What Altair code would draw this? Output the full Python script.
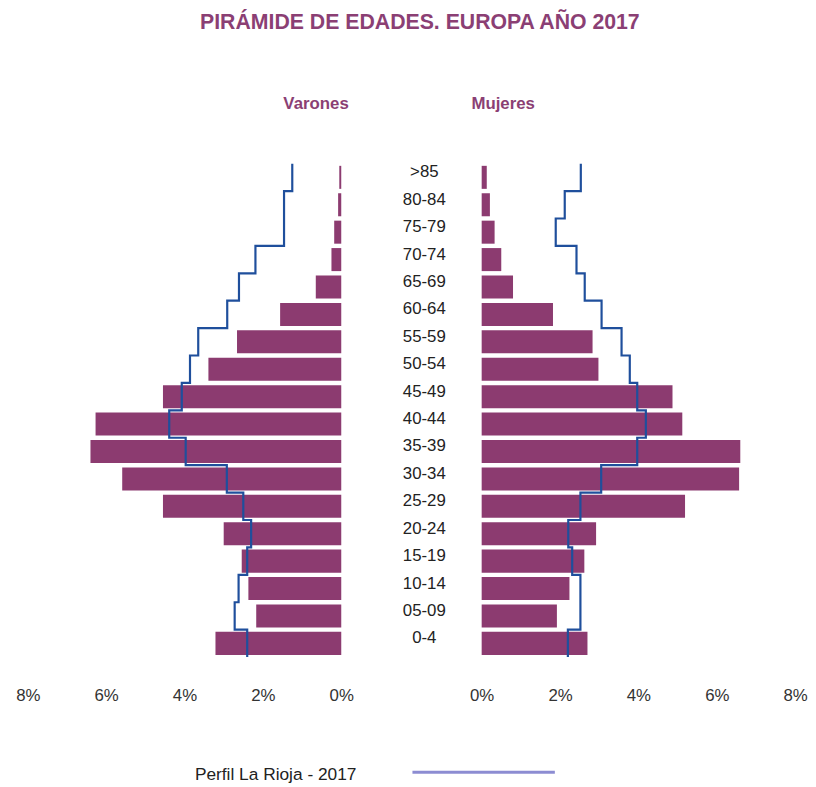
import altair as alt
import pandas as pd

ages = [">85", "80-84", "75-79", "70-74", "65-69", "60-64", "55-59", "50-54", "45-49",
        "40-44", "35-39", "30-34", "25-29", "20-24", "15-19", "10-14", "05-09", "0-4"]
men_europe = [0.05, 0.08, 0.18, 0.25, 0.65, 1.56, 2.66, 3.39, 4.55,
              6.27, 6.40, 5.59, 4.55, 3.00, 2.54, 2.37, 2.17, 3.21]
women_europe = [0.13, 0.21, 0.33, 0.50, 0.80, 1.82, 2.83, 2.98, 4.87,
                5.12, 6.60, 6.57, 5.19, 2.92, 2.62, 2.24, 1.92, 2.70]
men_rioja = [1.25, 1.46, 1.46, 2.19, 2.61, 2.91, 3.65, 3.86, 4.07,
             4.39, 3.97, 2.92, 2.50, 2.30, 2.40, 2.62, 2.72, 2.40]
women_rioja = [2.53, 2.12, 1.89, 2.42, 2.63, 3.06, 3.57, 3.78, 3.97,
               4.19, 3.97, 3.05, 2.52, 2.21, 2.31, 2.52, 2.52, 2.20]
tick_values = [0, 2, 4, 6, 8]

TITLE = "PIRÁMIDE DE EDADES. EUROPA AÑO 2017"
LEFT_LABEL = "Varones"
RIGHT_LABEL = "Mujeres"
LEGEND_LABEL = "Perfil La Rioja - 2017"

FONT = "Liberation Sans"
PURPLE = "#8C3B70"
TITLE_PURPLE = "#8B3F74"
BLUE = "#1F4F9C"
LEGEND_BLUE = "#8C8CD2"

W_SIDE = 317
W_MID = 142
H = 499

df = pd.DataFrame({
    "age": ages,
    "idx": list(range(len(ages))),
    "men": men_europe,
    "women": women_europe,
    "men_r": men_rioja,
    "women_r": women_rioja,
})

yscale = alt.Scale(domain=[0, len(ages)], reverse=True, nice=False, zero=False)


def side(value_field, line_field, reverse):
    xscale = alt.Scale(domain=[0, 8], reverse=reverse, nice=False)
    axis = alt.Axis(values=tick_values, labelExpr="datum.value + '%'", grid=False,
                    domain=False, ticks=False, tickSize=0, labelPadding=31,
                    labelFlush=False, labelOverlap=False, labelBound=False,
                    labelFontSize=17, labelColor="#333333", labelFont=FONT, title=None)
    base = alt.Chart(df)
    bars = base.transform_calculate(
        y0="datum.idx + 0.08", y1="datum.idx + 0.92"
    ).mark_rect(color=PURPLE).encode(
        x=alt.X(f"{value_field}:Q", scale=xscale, axis=axis),
        x2=alt.datum(0),
        y=alt.Y("y0:Q", scale=yscale, axis=None),
        y2="y1:Q",
    )
    line = base.transform_calculate(
        top="datum.idx", bot="datum.idx + 1"
    ).transform_fold(
        ["top", "bot"], as_=["edge", "ypos"]
    ).transform_calculate(
        ord="datum.idx * 2 + (datum.edge == 'bot' ? 1 : 0)"
    ).mark_line(color=BLUE, strokeWidth=2.2).encode(
        x=alt.X(f"{line_field}:Q", scale=xscale, axis=axis),
        y=alt.Y("ypos:Q", scale=yscale, axis=None),
        order=alt.Order("ord:Q"),
    )
    return alt.layer(bars, line).properties(width=W_SIDE, height=H)


left = side("men", "men_r", True)
right = side("women", "women_r", False)

age_text = alt.Chart(df).transform_calculate(
    yc="datum.idx + 0.5"
).mark_text(align="center", baseline="middle", fontSize=17, font=FONT,
            color="#222222", dy=-5).encode(
    x=alt.value(84),
    y=alt.Y("yc:Q", scale=yscale, axis=None),
    text="age:N",
)


def label(text, x, y, size, color, bold, align="center"):
    return alt.Chart(pd.DataFrame({"t": [text]})).mark_text(
        align=align, baseline="alphabetic", fontSize=size, font=FONT,
        fontWeight="bold" if bold else "normal", color=color,
    ).encode(x=alt.value(x), y=alt.value(y), text="t:N")


title_mark = label(TITLE, 79.5, -135.7, 21.5, TITLE_PURPLE, True)
varones = label(LEFT_LABEL, -25.5, -55, 17, TITLE_PURPLE, True)
mujeres = label(RIGHT_LABEL, 163.7, -55, 17, TITLE_PURPLE, True)
legend_text = label(LEGEND_LABEL, -148, 623, 17.5, "#222222", False, align="left")
legend_line = alt.Chart(pd.DataFrame({"t": [LEGEND_LABEL]})).mark_rule(
    color=LEGEND_BLUE, strokeWidth=3
).encode(x=alt.value(72), x2=alt.value(216), y=alt.value(615.5))

middle = alt.layer(age_text, title_mark, varones, mujeres, legend_text, legend_line).properties(
    width=W_MID, height=H
)

chart = alt.hconcat(left, middle, right, spacing=0, bounds="flush").properties(
    padding={"left": 7, "top": 0, "right": 0, "bottom": 0}
).configure_view(stroke=None)

chart.save("out.html", embed_options={"renderer": "svg", "actions": False})
